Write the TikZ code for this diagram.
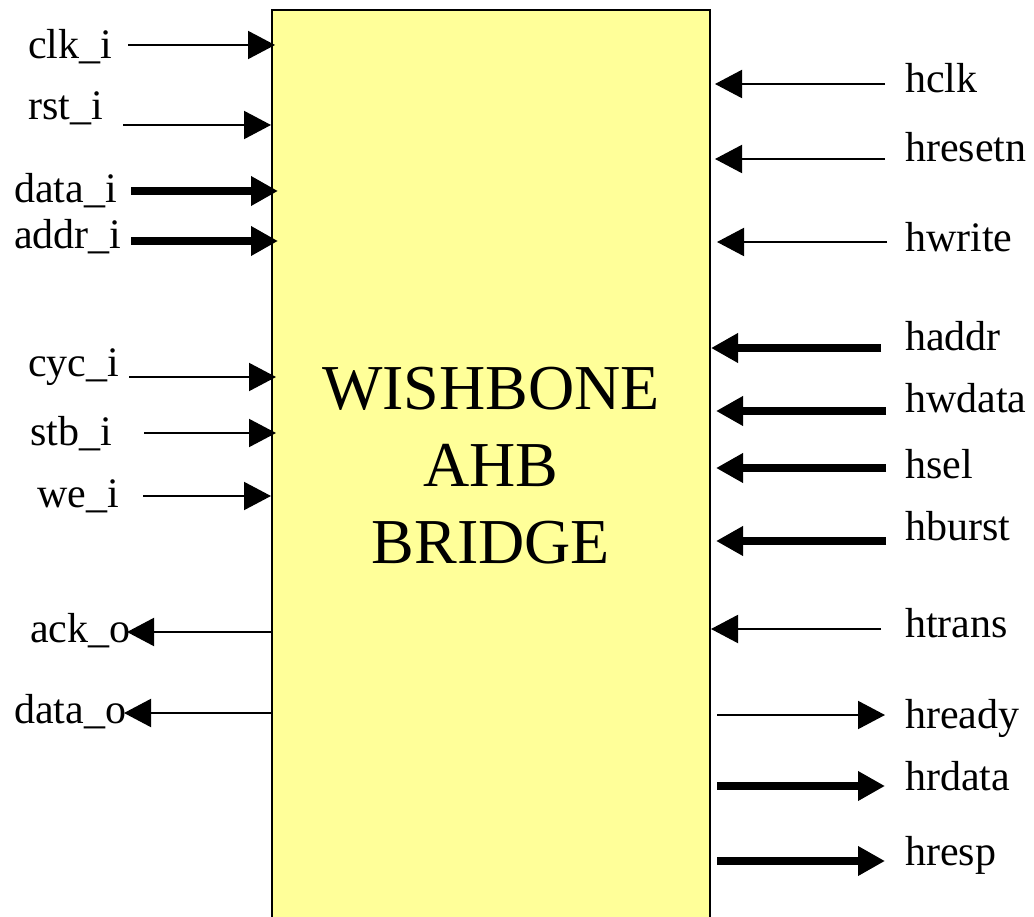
\documentclass[tikz,border=0pt]{standalone}
\usepackage{fontspec}
\setmainfont{Liberation Serif}
\usetikzlibrary{arrows.meta}
\definecolor{boxyellow}{HTML}{FFFF99}
\tikzset{
  lbl/.style={anchor=base west, inner sep=0pt, font=\fontsize{42}{50}\selectfont},
  thinsig/.style={line width=2pt, -{Triangle[length=27pt,width=28pt]}},
  thicksig/.style={line width=8pt, -{Triangle[length=27pt,width=28pt]}},
  block/.style={draw=black, line width=2pt, fill=boxyellow},
}
\begin{document}
\begin{tikzpicture}[x=1pt,y=-1pt]
\useasboundingbox (0,0) rectangle (1034,917);
% main block (extends past the lower edge)
\draw[block] (272,10) rectangle (710,940);
\node[align=center, inner sep=0pt, font=\fontsize{64}{77}\selectfont, anchor=base] (title) at (491,563)
  {WISHBONE\\AHB\\BRIDGE};

% left side labels
\node[lbl] (clk) at (28,59) {clk\_i};
\node[lbl] (rst) at (28,120) {rst\_i};
\node[lbl] (datai) at (14,203) {data\_i};
\node[lbl] (addri) at (14,249) {addr\_i};
\node[lbl] (cyc) at (28,377) {cyc\_i};
\node[lbl] (stb) at (30,445) {stb\_i};
\node[lbl] (we) at (37,507) {we\_i};
\node[lbl] (ack) at (30,642) {ack\_o};
\node[lbl] (datao) at (14,723) {data\_o};

% right side labels
\node[lbl] (hclk) at (905,93) {hclk};
\node[lbl] (hresetn) at (905,162) {hresetn};
\node[lbl] (hwrite) at (905,252) {hwrite};
\node[lbl] (haddr) at (905,351) {haddr};
\node[lbl] (hwdata) at (905,412) {hwdata};
\node[lbl] (hsel) at (905,478) {hsel};
\node[lbl] (hburst) at (905,540) {hburst};
\node[lbl] (htrans) at (905,637) {htrans};
\node[lbl] (hready) at (905,728) {hready};
\node[lbl] (hrdata) at (905,790) {hrdata};
\node[lbl] (hresp) at (905,865) {hresp};

% connector end points
\coordinate (clkA) at (128,45);   \coordinate (clkB) at (275,45);
\coordinate (rstA) at (123,125);  \coordinate (rstB) at (271,125);
\coordinate (dataiA) at (131,191); \coordinate (dataiB) at (278,191);
\coordinate (addriA) at (131,241); \coordinate (addriB) at (278,241);
\coordinate (cycA) at (129,377);  \coordinate (cycB) at (276,377);
\coordinate (stbA) at (144,433);  \coordinate (stbB) at (276,433);
\coordinate (weA) at (143,496);   \coordinate (weB) at (271,496);
\coordinate (ackA) at (272,632);  \coordinate (ackB) at (127,632);
\coordinate (dataoA) at (272,713); \coordinate (dataoB) at (124,713);

\coordinate (hclkA) at (885,84);    \coordinate (hclkB) at (715,84);
\coordinate (hresetnA) at (885,159); \coordinate (hresetnB) at (715,159);
\coordinate (hwriteA) at (887,242); \coordinate (hwriteB) at (717,242);
\coordinate (haddrA) at (881,348);  \coordinate (haddrB) at (711,348);
\coordinate (hwdataA) at (886,411); \coordinate (hwdataB) at (716,411);
\coordinate (hselA) at (886,468);   \coordinate (hselB) at (716,468);
\coordinate (hburstA) at (886,541); \coordinate (hburstB) at (716,541);
\coordinate (htransA) at (881,629); \coordinate (htransB) at (711,629);
\coordinate (hreadyA) at (717,715); \coordinate (hreadyB) at (885,715);
\coordinate (hrdataA) at (717,786); \coordinate (hrdataB) at (885,786);
\coordinate (hrespA) at (717,861);  \coordinate (hrespB) at (885,861);

% connectors
\draw[thinsig] (clkA) -- (clkB);
\draw[thinsig] (rstA) -- (rstB);
\draw[thicksig] (dataiA) -- (dataiB);
\draw[thicksig] (addriA) -- (addriB);
\draw[thinsig] (cycA) -- (cycB);
\draw[thinsig] (stbA) -- (stbB);
\draw[thinsig] (weA) -- (weB);
\draw[thinsig] (ackA) -- (ackB);
\draw[thinsig] (dataoA) -- (dataoB);

\draw[thinsig] (hclkA) -- (hclkB);
\draw[thinsig] (hresetnA) -- (hresetnB);
\draw[thinsig] (hwriteA) -- (hwriteB);
\draw[thicksig] (haddrA) -- (haddrB);
\draw[thicksig] (hwdataA) -- (hwdataB);
\draw[thicksig] (hselA) -- (hselB);
\draw[thicksig] (hburstA) -- (hburstB);
\draw[thinsig] (htransA) -- (htransB);
\draw[thinsig] (hreadyA) -- (hreadyB);
\draw[thicksig] (hrdataA) -- (hrdataB);
\draw[thicksig] (hrespA) -- (hrespB);
\end{tikzpicture}
\end{document}
